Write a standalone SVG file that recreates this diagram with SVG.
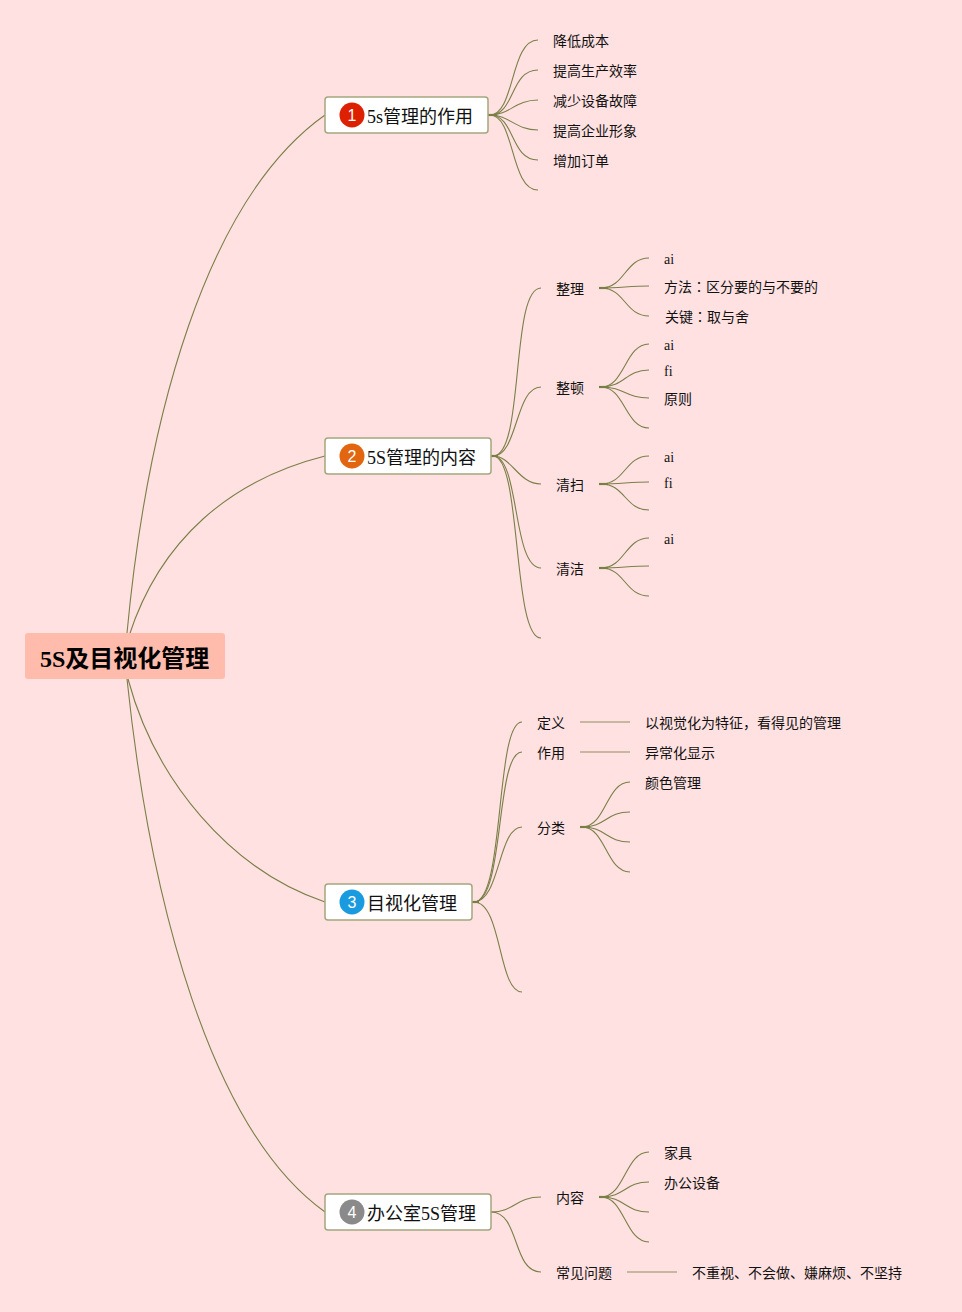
<svg xmlns="http://www.w3.org/2000/svg" width="962" height="1312" viewBox="0 0 962 1312">
<style>
text{font-family:"Liberation Serif","Noto Sans CJK SC",serif;fill:#111}
.leaf{font-size:14px}
.main{font-size:18px}
.root{font-size:24px;font-weight:700;fill:#000}
.box{fill:#fff;stroke:#a5a67f;stroke-width:1.5}
.num{font-family:"Liberation Sans","Noto Sans CJK SC",sans-serif;font-size:16px;fill:#fff;text-anchor:middle}
.tc{font-family:"Noto Sans CJK TC",sans-serif}
#connectors path{fill:none;stroke:#7a7f48;stroke-width:1.1}
#connectors .stub{stroke:#6f8040;stroke-width:2.2}
#connectors .st{stroke:#b5a98a;stroke-width:1.4}
</style>
<rect width="962" height="1312" fill="#ffe1e1"/>
<g id="connectors">
<path d="M127 633C147 420 205 200 325 115"/>
<path d="M129 636C160 540 230 480 325 456"/>
<path d="M128 679C155 780 230 870 325 902"/>
<path d="M127 679C150 900 210 1130 325 1212"/>
<path class="stub" d="M488 115H497"/>
<path d="M490 115C515 115 510 40 538 40"/>
<path d="M490 115C515 115 510 70 538 70"/>
<path d="M490 115C510 115 515 100 538 100"/>
<path d="M490 115C510 115 515 130 538 130"/>
<path d="M490 115C515 115 510 160 538 160"/>
<path d="M490 115C515 115 510 190 538 190"/>
<path class="stub" d="M491 456H498"/>
<path d="M493 456C525 456 510 288 541 288"/>
<path d="M493 456C518 456 515 387 541 387"/>
<path d="M493 456C512 456 518 484 541 484"/>
<path d="M493 456C520 456 512 568 541 568"/>
<path d="M493 456C522 456 512 638 541 638"/>
<path class="stub" d="M599 288H608"/><path d="M601 288C625 288 625 258 649 258"/><path d="M601 288C620 288 630 286 649 286"/><path d="M601 288C625 288 625 316 649 316"/>
<path class="stub" d="M599 387H608"/><path d="M601 387C625 387 625 344 649 344"/><path d="M601 387C625 387 625 370 649 370"/><path d="M601 387C625 387 625 398 649 398"/><path d="M601 387C625 387 625 428 649 428"/>
<path class="stub" d="M599 484H608"/><path d="M601 484C625 484 625 456 649 456"/><path d="M601 484C620 484 630 482 649 482"/><path d="M601 484C625 484 625 510 649 510"/>
<path class="stub" d="M599 568H608"/><path d="M601 568C625 568 625 538 649 538"/><path d="M601 568C620 568 630 566 649 566"/><path d="M601 568C625 568 625 596 649 596"/>
<path class="stub" d="M472 902H479"/>
<path d="M474 902C505 902 495 722 522 722"/>
<path d="M474 902C505 902 495 752 522 752"/>
<path d="M474 902C500 902 498 827 522 827"/>
<path d="M474 902C502 902 498 992 522 992"/>
<path class="st" d="M580 722H630"/><path class="st" d="M580 752H630"/>
<path class="stub" d="M580 827H589"/><path d="M582 827C606 827 606 782 630 782"/><path d="M582 827C606 827 606 812 630 812"/><path d="M582 827C606 827 606 842 630 842"/><path d="M582 827C606 827 606 872 630 872"/>
<path d="M491 1212C515 1212 515 1197 541 1197"/>
<path d="M491 1212C520 1212 512 1272 541 1272"/>
<path class="stub" d="M599 1197H608"/><path d="M601 1197C625 1197 625 1152 649 1152"/><path d="M601 1197C625 1197 625 1182 649 1182"/><path d="M601 1197C625 1197 625 1212 649 1212"/><path d="M601 1197C625 1197 625 1242 649 1242"/>
<path class="st" d="M627 1272H677"/>
</g>
<g id="root"><rect x="25" y="633" width="200" height="46" rx="3" fill="#ffbcad"/><text class="root" x="40" y="667">5S及目视化管理</text></g>
<g id="n1"><rect class="box" x="325" y="97" width="163" height="36" rx="3"/><circle cx="352" cy="115" r="12.5" fill="#dd2000"/><text class="num" x="352" y="121">1</text><text class="main" x="367" y="123">5s管理的作用</text></g>
<g id="n2"><rect class="box" x="325" y="438" width="166" height="36" rx="3"/><circle cx="352" cy="456" r="12.5" fill="#e2650f"/><text class="num" x="352" y="462">2</text><text class="main" x="367" y="464">5S管理的内容</text></g>
<g id="n3"><rect class="box" x="325" y="884" width="147" height="36" rx="3"/><circle cx="352" cy="902" r="12.5" fill="#1a9be0"/><text class="num" x="352" y="908">3</text><text class="main" x="367" y="910">目视化管理</text></g>
<g id="n4"><rect class="box" x="325" y="1194" width="166" height="36" rx="3"/><circle cx="352" cy="1212" r="12.5" fill="#8a8a8a"/><text class="num" x="352" y="1218">4</text><text class="main" x="367" y="1220">办公室5S管理</text></g>
<g id="leaves" class="leaf">
<text x="553" y="46">降低成本</text><text x="553" y="76">提高生产效率</text><text x="553" y="106">减少设备故障</text><text x="553" y="136">提高企业形象</text><text x="553" y="166">增加订单</text>
<text x="556" y="294">整理</text><text x="556" y="393">整顿</text><text x="556" y="490">清扫</text><text x="556" y="574">清洁</text>
<text x="664" y="264">ai</text><text x="664" y="292">方法<tspan class="tc">：</tspan>区分要的与不要的</text><text x="665" y="322">关键<tspan class="tc">：</tspan>取与舍</text>
<text x="664" y="350">ai</text><text x="664" y="376">fi</text><text x="664" y="404">原则</text>
<text x="664" y="462">ai</text><text x="664" y="488">fi</text><text x="664" y="544">ai</text>
<text x="537" y="728">定义</text><text x="537" y="758">作用</text><text x="537" y="833">分类</text>
<text x="645" y="728">以视觉化为特征，看得见的管理</text><text x="645" y="758">异常化显示</text><text x="645" y="788">颜色管理</text>
<text x="556" y="1203">内容</text><text x="556" y="1278">常见问题</text>
<text x="664" y="1158">家具</text><text x="664" y="1188">办公设备</text><text x="692" y="1278">不重视、不会做、嫌麻烦、不坚持</text>
</g>
</svg>
